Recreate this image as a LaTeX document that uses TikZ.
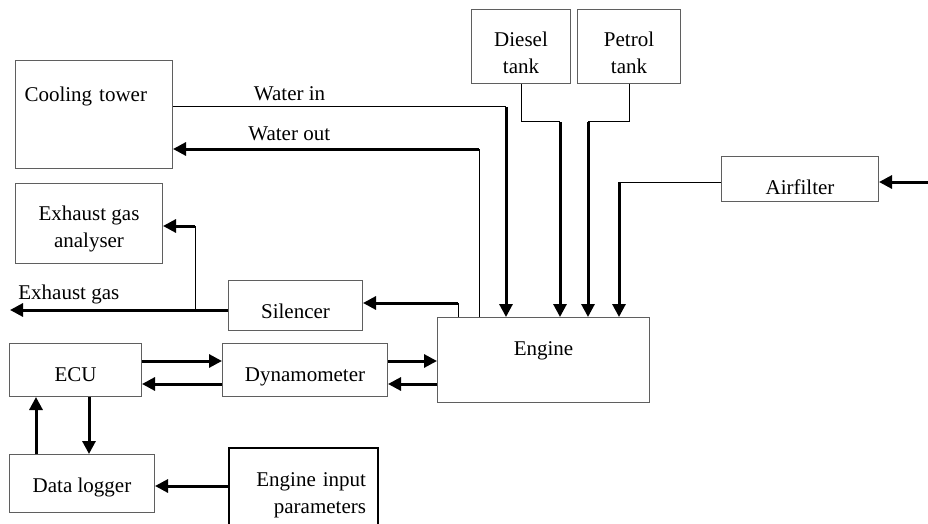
\documentclass[tikz,border=0pt]{standalone}
\usepackage{fontspec}
\setmainfont{Liberation Serif}
\usetikzlibrary{arrows.meta}
\definecolor{BoxGray}{RGB}{95,95,95}

\begin{document}
\begin{tikzpicture}[x=1pt,y=-1pt,font=\fontsize{21}{27}\selectfont,
  box/.style={draw=BoxGray,line width=1pt,inner sep=0pt,anchor=north west,text height=38pt},
  feed/.style={line width=1pt},
  flow/.style={line width=3pt,-{Triangle[length=13pt,width=13pt]}}]
\useasboundingbox (0,0) rectangle (928,524);
\clip (0,0) rectangle (928,524);
\node[box,minimum width=157pt,text height=41pt,text depth=67pt,text width=139pt,inner xsep=9pt,align=left] (cool) at (15,60) {Cooling tower};
\node[box,minimum width=99pt,text height=64pt,text depth=10pt,align=center] (diesel) at (471,9) {Diesel\\tank};
\node[box,minimum width=103pt,text height=64pt,text depth=10pt,align=center] (petrol) at (577,9) {Petrol\\tank};
\node[box,minimum width=157pt,text depth=7pt] (air) at (721,156) {Airfilter};
\node[box,minimum width=147pt,text height=64pt,text depth=16pt,align=center] (ana) at (15,183) {Exhaust gas\\analyser};
\node[box,minimum width=134pt,text depth=12pt] (sil) at (228,280) {Silencer};
\node[box,minimum width=212pt,text depth=47pt] (eng) at (437,317) {Engine};
\node[box,minimum width=132pt,text depth=15pt] (ecu) at (9,343) {ECU};
\node[box,minimum width=165pt,text depth=15pt] (dyn) at (222,343) {Dynamometer};
\node[box,minimum width=145pt,text depth=20pt] (log) at (9,454) {Data logger};
\node[box,draw=black,line width=2pt,minimum width=149pt,text width=125pt,align=right,text depth=55pt] (inp) at (228,447) {Engine input\\parameters};
\coordinate (win) at (506,107);
\coordinate (wout) at (479,149);
\coordinate (dsl) at (560,122);
\coordinate (ptl) at (588,122);
\coordinate (afl) at (619,182);
\coordinate (ain) at (928,182);
\coordinate (sln) at (458,303);
\coordinate (exh) at (10,310);
\coordinate (br) at (195,226);
\coordinate (hi) at (0,361);
\coordinate (lo) at (0,384);
\coordinate (dn) at (89,0);
\coordinate (up) at (36,0);
\coordinate (par) at (0,486);
\draw[feed] (cool.east |- win) -- node[pos=.35,anchor=base,yshift=6pt] {Water in} (win);
\draw[flow] (win) -- (win |- eng.north);
\draw[feed] (wout |- eng.north) -- (wout);
\draw[flow] (wout) -- node[pos=.62,anchor=base,yshift=9pt] {Water out} (cool.east |- wout);
\draw[feed] (diesel.south) |- (dsl);
\draw[flow] (dsl) -- (dsl |- eng.north);
\draw[feed] (petrol.south) |- (ptl);
\draw[flow] (ptl) -- (ptl |- eng.north);
\draw[feed] (air.west |- afl) -- (afl);
\draw[flow] (afl) -- (afl |- eng.north);
\draw[flow] (ain) -- (air.east |- ain);
\draw[feed] (sln |- eng.north) -- (sln);
\draw[flow] (sln) -- (sil.east |- sln);
\draw[flow] (sil.west |- exh) -- node[pos=.73,anchor=base,yshift=11pt] {Exhaust gas} (exh);
\draw[feed] (exh -| br) -- (br);
\draw[flow] (br) -- (ana.east |- br);
\draw[flow] (ecu.east |- hi) -- (dyn.west |- hi);
\draw[flow] (dyn.west |- lo) -- (ecu.east |- lo);
\draw[flow] (dyn.east |- hi) -- (eng.west |- hi);
\draw[flow] (eng.west |- lo) -- (dyn.east |- lo);
\draw[flow] (ecu.south -| dn) -- (log.north -| dn);
\draw[flow] (log.north -| up) -- (ecu.south -| up);
\draw[flow] (inp.west |- par) -- (log.east |- par);
\end{tikzpicture}
\end{document}
